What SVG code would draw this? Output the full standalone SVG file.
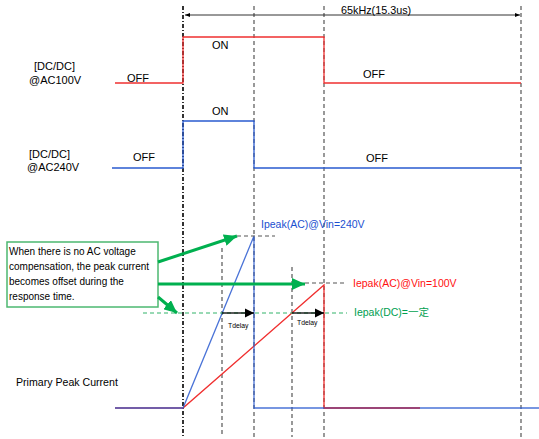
<svg xmlns="http://www.w3.org/2000/svg" width="539" height="439" viewBox="0 0 539 439">
<defs>
<style>
text{font-family:"Liberation Sans",Arial,sans-serif;fill:#000}
.lbl{font-size:11px}
.vd{stroke:#555;stroke-width:1.2;stroke-dasharray:4,3;fill:none}
.hd{stroke:#555;stroke-width:1.2;stroke-dasharray:4,3;fill:none}
.red{stroke:#f03030;stroke-width:1.3;fill:none}
.blue{stroke:#2a5bd0;stroke-width:1.3;fill:none}
.garr{stroke:#00b04f;stroke-width:3;fill:none}
</style>
<marker id="ga" markerUnits="userSpaceOnUse" markerWidth="14" markerHeight="12" refX="13" refY="6" orient="auto"><path d="M0,0 L13,6 L0,12 Z" fill="#00b04f"/></marker>
<marker id="ba" markerUnits="userSpaceOnUse" markerWidth="10" markerHeight="10" refX="9" refY="5" orient="auto"><path d="M0,0.5 L9,5 L0,9.5 Z" fill="#000"/></marker>
<marker id="sa" markerUnits="userSpaceOnUse" markerWidth="6" markerHeight="6" refX="5" refY="3" orient="auto"><path d="M0,1 L5,3 L0,5 Z" fill="#000"/></marker>
<marker id="sas" markerUnits="userSpaceOnUse" markerWidth="6" markerHeight="6" refX="0" refY="3" orient="auto"><path d="M5,1 L0,3 L5,5 Z" fill="#000"/></marker>
</defs>

<g id="gridlines">
<line x1="183" y1="6" x2="183" y2="437" stroke="#000" stroke-width="1.6" stroke-dasharray="4,2,1,2"/>
<line class="vd" x1="254" y1="6" x2="254" y2="437"/>
<line class="vd" x1="324" y1="6" x2="324" y2="437"/>
<line class="vd" x1="521" y1="6" x2="521" y2="437"/>
<line class="vd" x1="222" y1="248" x2="222" y2="437"/>
<line class="vd" x1="292" y1="267" x2="292" y2="437"/>
</g>

<g id="period">
<line x1="185" y1="15" x2="520" y2="15" stroke="#333" stroke-width="1" marker-start="url(#sas)" marker-end="url(#sa)"/>
<text x="341" y="14" style="font-size:10.8px">65kHz(15.3us)</text>
</g>

<g id="dcdc100">
<text class="lbl" x="34" y="70">[DC/DC]</text>
<text class="lbl" x="29" y="84">@AC100V</text>
<polyline class="red" points="115,83 183,83 183,37 324,37 324,83 521,83"/>
<text class="lbl" x="212" y="49">ON</text>
<text class="lbl" x="127" y="82">OFF</text>
<text class="lbl" x="363" y="78">OFF</text>
</g>

<g id="dcdc240">
<text class="lbl" x="29" y="158">[DC/DC]</text>
<text class="lbl" x="27" y="171">@AC240V</text>
<polyline class="blue" points="112,168 183,168 183,121 254,121 254,168 521,168"/>
<text class="lbl" x="212" y="115">ON</text>
<text class="lbl" x="133" y="161">OFF</text>
<text class="lbl" x="366" y="162">OFF</text>
</g>

<g id="current">
<text x="16" y="386" style="font-size:10.6px">Primary Peak Current</text>
<polyline class="red" points="115,408 183,408 324,285 324,408 420,408"/>
<polyline class="blue" points="115,408 183,408 254,236 254,408 539,408" stroke-opacity="0.85"/>
<line x1="324" y1="408" x2="420" y2="408" stroke="#c0304a" stroke-width="1.3" stroke-opacity="0.7"/>
</g>

<g id="levels">
<line class="hd" x1="237" y1="236" x2="275" y2="236"/>
<line class="hd" x1="305" y1="283" x2="345" y2="283"/>
<line x1="143" y1="313" x2="347" y2="313" stroke="#33b36b" stroke-width="1.2" stroke-dasharray="4,3"/>
<text x="261" y="228" style="font-size:10.5px;fill:#1a4fd0">Ipeak(AC)@Vin=240V</text>
<text x="353" y="287" style="font-size:10.5px;fill:#ff1010">Iepak(AC)@Vin=100V</text>
<text x="354" y="316" style="font-size:10.5px;fill:#00a050;font-family:'Liberation Sans','Noto Sans CJK JP',sans-serif">Iepak(DC)=一定</text>
</g>

<g id="tdelay">
<line x1="222" y1="313" x2="254" y2="313" stroke="#000" stroke-width="1.3" marker-end="url(#ba)"/>
<line x1="292" y1="313" x2="324" y2="313" stroke="#000" stroke-width="1.3" marker-end="url(#ba)"/>
<text x="228" y="328" style="font-size:6.8px">Tdelay</text>
<text x="297" y="325" style="font-size:6.8px">Tdelay</text>
</g>

<g id="callout">
<rect x="7" y="242" width="151" height="65" fill="#fff" stroke="#4cb870" stroke-width="1.5"/>
<text x="9" y="255" style="font-size:10px">When there is no AC voltage</text>
<text x="9" y="270" style="font-size:10px">compensation, the peak current</text>
<text x="9" y="285" style="font-size:10px">becomes offset during the</text>
<text x="9" y="300" style="font-size:10px">response time.</text>
</g>

<g id="connectors">
<line class="garr" x1="158" y1="262" x2="237" y2="236" marker-end="url(#ga)"/>
<line class="garr" x1="158" y1="284" x2="305" y2="284" marker-end="url(#ga)"/>
<line class="garr" x1="158" y1="297" x2="177" y2="313" marker-end="url(#ga)"/>
</g>
</svg>
